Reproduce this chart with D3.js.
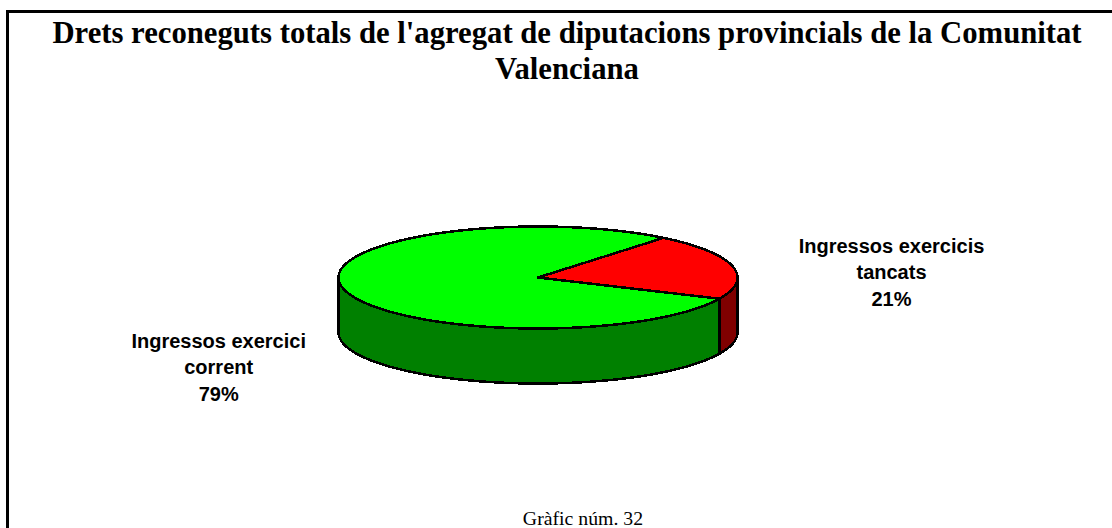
<!DOCTYPE html>
<html>
<head>
<meta charset="utf-8">
<script src="https://cdnjs.cloudflare.com/ajax/libs/d3/7.8.5/d3.min.js"></script>
<style>
  html, body { margin: 0; padding: 0; background: #fff; }
  svg { display: block; }
</style>
</head>
<body>
<svg id="chart"></svg>
<script>
const titleLines = ["Drets reconeguts totals de l'agregat de diputacions provincials de la Comunitat", "Valenciana"];
const caption = "Gràfic núm. 32";
const categories = ["Ingressos exercicis tancats", "Ingressos exercici corrent"];
const shares = [21, 79];
const labelLines = [["Ingressos exercicis", "tancats", "21%"], ["Ingressos exercici", "corrent", "79%"]];
const topColors = ["#ff0000", "#00ff00"];
const sideColors = ["#800000", "#008000"];

const width = 1112;
const height = 528;
const cx = 538, cy = 277.5;
const rx = 199.5, ry = 51, depth = 55;
const labelPos = [[891.5, 252.5], [218.7, 347.5]];

const svg = d3.select('#chart')
    .attr('width', width)
    .attr('height', height);

// page frame, only left and top are inside the crop
svg.append('path')
    .attr('d', `M7.5,${height}V11.5H${width}`)
    .attr('fill', 'none')
    .attr('stroke', '#000')
    .attr('stroke-width', 3);

svg.append('g').selectAll('text')
    .data(titleLines)
    .enter()
    .append('text')
    .attr('x', 567)
    .attr('y', (d, i) => 43 + i * 36)
    .attr('text-anchor', 'middle')
    .style('font', 'bold 30.7px "Liberation Serif"')
    .text(d => d);

const pie = d3.pie().sort(null)
    .startAngle(39 * Math.PI / 180)
    .endAngle((39 + 360) * Math.PI / 180);
const slices = pie(shares);

// pie coordinates to screen, angle is clockwise from 12 o'clock
const xs = d3.scaleLinear().domain([-1, 1]).range([cx - rx, cx + rx]);
const ys = d3.scaleLinear().domain([-1, 1]).range([cy + ry, cy - ry]);

const rim = (a0, a1, dy) => d3.range(0, 121).map(i => {
    const a = a0 + (a1 - a0) * i / 120;
    return [xs(Math.sin(a)), ys(Math.cos(a)) + dy];
});

const line = d3.line();
const pieGroup = svg.append('g')
    .attr('stroke', '#000')
    .attr('stroke-width', 2.5)
    .attr('stroke-linejoin', 'round')
    .attr('shape-rendering', 'crispEdges');

// side wall: only the front half of the rim shows
slices.forEach((s, i) => {
    const a0 = Math.max(s.startAngle, Math.PI / 2);
    const a1 = Math.min(s.endAngle, Math.PI * 1.5);
    if (a1 <= a0) return;
    const pts = rim(a0, a1, 0).concat(rim(a0, a1, depth).reverse());
    pieGroup.append('path')
        .attr('d', line(pts) + 'Z')
        .attr('fill', sideColors[i]);
});

// top face
pieGroup.selectAll('path.top')
    .data(slices)
    .enter()
    .append('path')
    .attr('class', 'top')
    .attr('fill', (d, i) => topColors[i])
    .attr('d', d => line([[cx, cy]].concat(rim(d.startAngle, d.endAngle, 0))) + 'Z');

const labels = svg.append('g').selectAll('text')
    .data(categories)
    .enter()
    .append('text')
    .attr('text-anchor', 'middle')
    .style('font', 'bold 20px "Liberation Sans"');

labels.each(function (d, i) {
    d3.select(this).selectAll('tspan')
        .data(labelLines[i])
        .enter()
        .append('tspan')
        .attr('x', labelPos[i][0])
        .attr('y', (t, j) => labelPos[i][1] + j * 26.5)
        .text(t => t);
});

svg.append('text')
    .attr('x', 583)
    .attr('y', 524.5)
    .attr('text-anchor', 'middle')
    .style('font', '19.8px "Liberation Serif"')
    .text(caption);
</script>
</body>
</html>
